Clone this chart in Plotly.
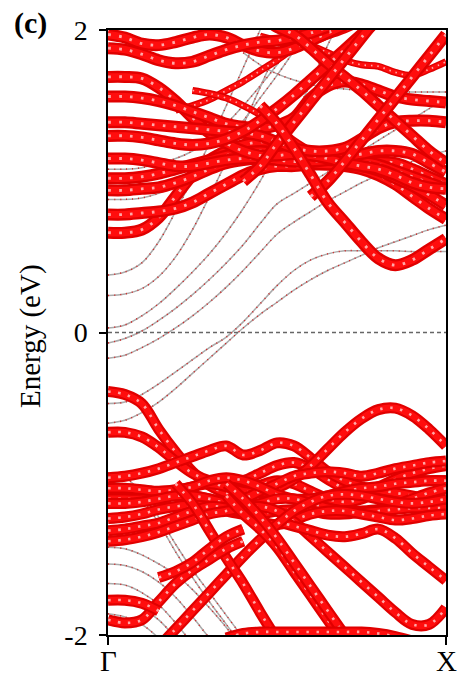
import plotly.graph_objects as go

N = None
# k-path coordinate (Gamma -> X)
K = [0.00, 0.05, 0.10, 0.15, 0.20, 0.25, 0.30, 0.35, 0.40, 0.45, 0.50,
     0.55, 0.60, 0.65, 0.70, 0.75, 0.80, 0.85, 0.90, 0.95, 1.00]

# ---------- thin (low weight) bands ----------
T1 = [0.38, 0.40, 0.46, 0.60, 0.80, 1.02, 1.25, 1.50, 1.75, 2.00, 2.25, N, N, N, N, N, N, N, N, N, N]
T2 = [0.245, 0.255, 0.29, 0.37, 0.50, 0.68, 0.90, 1.13, 1.37, 1.62, 1.87, 2.10, N, N, N, N, N, N, N, N, N]
T3 = [0.03, 0.05, 0.11, 0.19, 0.29, 0.40, 0.52, 0.66, 0.82, 1.00, 1.20, 1.42, 1.65, 1.90, 2.12, N, N, N, N, N, N]
T4 = [-0.07, -0.04, 0.01, 0.08, 0.16, 0.25, 0.35, 0.46, 0.58, 0.72, 0.85, 0.92, 0.99, 1.06, 1.13, 1.20, 1.27, 1.34, 1.41, 1.48, 1.55]
T5 = [-0.17, -0.15, -0.10, -0.04, 0.03, 0.11, 0.20, 0.30, 0.41, 0.53, 0.65, 0.73, 0.80, 0.87, 0.93, 0.99, 1.04, 1.09, 1.13, 1.17, 1.20]
T6 = [N, N, N, N, N, N, N, N, 1.85, 1.77, 1.71, 1.67, 1.64, 1.62, 1.61, 1.60, 1.60, 1.59, 1.59, 1.59, 1.59]
T7 = [1.08, 1.08, 1.09, 1.12, 1.15, 1.20, 1.28, 1.38, 1.50, 1.63, 1.77, 1.92, 2.07, N, N, N, N, N, N, N, N]
T8 = [0.88, 0.88, 0.89, 0.92, 0.97, 1.05, 1.15, 1.27, 1.40, 1.55, 1.70, 1.86, 2.02, N, N, N, N, N, N, N, N]
W1 = [-0.47, -0.46, -0.41, -0.34, -0.26, -0.18, -0.10, -0.03, 0.07, 0.19, 0.31, 0.41, 0.48, 0.52, 0.54, 0.54, 0.54, 0.54, 0.535, 0.535, 0.535]
W2 = [-0.60, -0.58, -0.53, -0.46, -0.37, -0.27, -0.17, -0.07, 0.03, 0.12, 0.20, 0.28, 0.35, 0.41, 0.46, 0.51, 0.56, 0.60, 0.64, 0.68, 0.71]
G1 = [-1.42, -1.43, -1.47, -1.53, -1.60, -1.70, -1.82, -1.95, -2.10, N, N, N, N, N, N, N, N, N, N, N, N]
G2 = [-1.53, -1.54, -1.58, -1.65, -1.75, -1.88, -2.02, -2.15, N, N, N, N, N, N, N, N, N, N, N, N, N]
G3 = [-1.66, -1.67, -1.72, -1.80, -1.92, -2.06, N, N, N, N, N, N, N, N, N, N, N, N, N, N, N]
G4 = [-1.76, -1.77, -1.82, -1.90, -2.02, N, N, N, N, N, N, N, N, N, N, N, N, N, N, N, N]
G5 = [-1.86, -1.88, -1.93, -2.02, N, N, N, N, N, N, N, N, N, N, N, N, N, N, N, N, N]
G6 = [-0.93, -0.96, -1.06, -1.22, -1.40, -1.57, -1.72, -1.87, -2.02, N, N, N, N, N, N, N, N, N, N, N, N]
G7 = [-0.99, -1.01, -1.10, -1.26, -1.45, -1.62, -1.78, -1.93, -2.08, N, N, N, N, N, N, N, N, N, N, N, N]
thin_bands = [T1, T2, T3, T4, T5, T6, T7, T8, W1, W2, G1, G2, G3, G4, G5, G6, G7]

# ---------- valence bands with large weight ----------
VA = [-0.39, -0.41, -0.47, -0.64, -0.79, -0.92, -1.01, -1.06, -1.05, -1.01, -0.98, -1.00, -1.05, -1.10, -1.12, -1.10, -1.05, -1.00, -0.98, -0.98, -0.98]
VB = [-0.66, -0.66, -0.69, -0.76, -0.85, -0.93, -0.98, -1.00, -0.98, -0.93, -0.88, -0.86, -0.90, -0.97, -1.03, -1.05, -1.02, -0.97, -0.93, -0.90, -0.88]
VK = [-0.96, -0.95, -0.93, -0.90, -0.86, -0.82, -0.78, -0.75, -0.81, -0.78, -0.73, -0.75, -0.83, -0.92, -0.98, -1.02, -1.04, -1.06, -1.08, -1.10, -1.10]
VC = [-1.03, -1.04, -1.05, -1.06, -1.05, -1.02, -1.00, -1.02, -1.05, -1.06, -1.03, -0.97, -0.88, -0.77, -0.66, -0.57, -0.51, -0.50, -0.55, -0.64, -0.75]
VJ = [-1.10, -1.10, -1.10, -1.08, -1.07, -1.08, -1.10, -1.12, -1.10, -1.05, -1.00, -0.95, -0.93, -0.92, -0.93, -0.95, -0.93, -0.90, -0.88, -0.86, -0.85]
VD = [-1.03, -1.03, -1.04, -1.05, -1.04, -1.02, -0.98, -0.96, -0.98, -1.02, -1.07, -1.10, -1.10, -1.08, -1.05, -1.03, -1.02, -1.00, -0.99, -0.98, -0.98]
VE = [-1.13, -1.13, -1.12, -1.10, -1.08, -1.08, -1.10, -1.13, -1.15, -1.13, -1.10, -1.10, -1.13, -1.16, -1.18, -1.18, -1.17, -1.14, -1.10, -1.06, -1.03]
VF = [-1.23, -1.22, -1.20, -1.17, -1.15, -1.14, -1.15, -1.18, -1.20, -1.20, -1.18, -1.17, -1.18, -1.20, -1.20, -1.19, -1.18, -1.17, -1.16, -1.16, -1.16]
VG = [-1.31, -1.30, -1.28, -1.26, -1.22, -1.18, -1.15, -1.16, -1.20, -1.25, -1.27, -1.24, -1.20, -1.18, -1.18, -1.20, -1.22, -1.24, -1.23, -1.21, -1.20]
VH = [-1.38, -1.37, -1.35, -1.32, -1.28, -1.24, -1.20, -1.18, -1.16, -1.15, -1.18, -1.25, -1.35, -1.45, -1.55, -1.65, -1.75, -1.85, -1.93, -1.93, -1.82]
D2 = [N, N, N, N, N, N, N, N, N, N, -1.25, -1.28, -1.31, -1.34, -1.35, -1.33, -1.30, -1.36, -1.46, -1.55, -1.64]
R1 = [N, N, N, -2.08, -1.96, -1.84, -1.72, -1.60, -1.48, -1.37, -1.27, -1.18, -1.12, -1.08, -1.07, -1.08, -1.10, -1.12, -1.13, -1.12, -1.10]
DS1 = [N, N, N, N, -1.00, -1.13, -1.31, -1.49, -1.66, -1.85, -2.03, N, N, N, N, N, N, N, N, N, N]
DS2 = [N, N, N, N, N, N, N, -1.08, -1.20, -1.30, -1.42, -1.58, -1.74, -1.90, -2.06, N, N, N, N, N, N]
DS3 = [N, N, N, N, N, N, N, -1.00, -1.10, -1.22, -1.36, -1.52, -1.68, -1.84, -2.00, -2.16, N, N, N, N, N]
BF = [N, N, N, N, N, N, N, -2.02, -1.99, -1.98, -1.98, -1.98, -1.98, -1.98, -1.98, -1.98, -1.99, -2.01, -2.04, N, N]
R2 = [-1.90, -1.92, -1.90, -1.78, -1.66, -1.57, -1.50, -1.43, -1.38, N, N, N, N, N, N, N, N, N, N, N, N]
R3 = [-1.77, -1.77, -1.79, -1.84, N, N, N, N, N, N, N, N, N, N, N, N, N, N, N, N, N]
R4 = [N, N, N, -1.62, -1.58, -1.52, -1.43, -1.35, -1.30, N, N, N, N, N, N, N, N, N, N, N, N]
valence_fat = [VA, VB, VK, VC, VJ, VD, VE, VF, VG, VH, D2, R1, DS1, DS2, DS3, BF, R2, R3, R4]

# ---------- conduction bands with large weight ----------
CA = [0.66, 0.66, 0.68, 0.76, 0.90, 1.04, 1.14, 1.20, 1.24, 1.26, 1.25, 1.22, 1.18, 1.14, 1.12, 1.12, 1.13, 1.12, 1.08, 1.03, 0.98]
CB = [0.78, 0.78, 0.79, 0.80, 0.82, 0.86, 0.92, 0.98, 1.04, 1.08, 1.10, 1.10, 1.11, 1.11, 1.10, 1.08, 1.04, 0.98, 0.90, 0.82, 0.75]
CC = [0.94, 0.94, 0.95, 0.96, 0.99, 1.03, 1.08, 1.12, 1.14, 1.15, 1.15, 1.14, 1.12, 1.11, 1.11, 1.10, 1.07, 1.02, 0.97, 0.91, 0.84]
CE = [1.02, 1.02, 1.03, 1.05, 1.08, 1.11, 1.14, 1.17, 1.19, 1.20, 1.19, 1.17, 1.15, 1.14, 1.14, 1.13, 1.11, 1.07, 1.03, 0.99, 0.95]
CF = [1.15, 1.15, 1.14, 1.12, 1.10, 1.10, 1.12, 1.14, 1.15, 1.15, 1.14, 1.13, 1.13, 1.14, 1.16, 1.18, 1.20, 1.20, 1.18, 1.12, 1.06]
L1 = [1.97, 1.95, 1.91, 1.90, 1.92, 1.95, 1.97, 1.95, 1.90, 1.86, 1.85, 1.88, 1.93, 1.98, 2.03, N, N, N, N, N, N]
L2 = [1.88, 1.87, 1.84, 1.80, 1.78, 1.79, 1.83, 1.87, 1.90, 1.92, 1.93, 1.95, 1.98, 2.02, N, N, N, N, N, N, N]
L3 = [1.69, 1.69, 1.68, 1.62, 1.53, 1.42, 1.32, 1.25, 1.20, 1.17, 1.17, 1.18, 1.17, 1.15, 1.12, 1.10, 1.08, 1.04, 0.99, 0.96, 0.95]
L4 = [1.56, 1.56, 1.55, 1.53, 1.50, 1.46, 1.42, 1.38, 1.36, 1.35, 1.37, 1.42, 1.55, 1.63, 1.66, 1.64, 1.60, 1.56, 1.54, 1.53, 1.52]
L5 = [1.39, 1.39, 1.38, 1.37, 1.36, 1.35, 1.34, 1.33, 1.32, 1.30, 1.26, 1.22, 1.20, 1.20, 1.22, 1.28, 1.35, 1.39, 1.40, 1.40, 1.39]
L6 = [1.30, 1.30, 1.29, 1.27, 1.25, 1.24, 1.25, 1.28, 1.33, 1.40, 1.48, 1.57, 1.67, 1.77, 1.87, 1.97, 2.07, N, N, N, N]
CX = [N, N, N, N, N, N, N, N, N, 2.10, 2.02, 1.97, 1.88, 1.78, 1.69, 1.60, 1.50, 1.40, 1.30, 1.20, 1.12]
CR1 = [N, N, N, N, N, N, N, N, 1.00, 1.10, 1.25, 1.39, 1.53, 1.67, 1.81, 1.95, 2.09, N, N, N, N]
CR2 = [N, N, N, N, N, N, N, N, N, N, N, N, 0.90, 1.00, 1.13, 1.27, 1.41, 1.55, 1.69, 1.83, 1.97]
CD = [N, N, N, N, N, N, N, N, N, 1.50, 1.38, 1.22, 1.04, 0.86, 0.73, 0.60, 0.49, 0.445, 0.48, 0.55, 0.62]
conduction_fat = [CA, CB, CC, CE, CF, L1, L2, L3, L4, L5, L6, CX, CR1, CR2, CD]

# ---------- conduction bands with medium weight ----------
M1 = [N, N, N, N, N, N, N, N, N, N, N, N, 1.90, 1.85, 1.80, 1.77, 1.76, 1.72, 1.70, 1.74, 1.79]
M2 = [N, N, N, N, N, N, N, N, N, 1.96, 1.93, 1.90, 1.92, 1.96, 2.00, 2.05, N, N, N, N, N]
M3 = [N, N, N, N, 1.47, 1.50, 1.54, 1.60, 1.66, 1.73, 1.80, 1.88, 1.96, 2.04, N, N, N, N, N, N, N]
M4 = [N, N, N, N, N, 1.60, 1.58, 1.55, 1.50, 1.44, 1.36, 1.27, 1.20, N, N, N, N, N, N, N, N]
conduction_medium = [M1, M2, M3, M4]

K_TICKS = [0, 1]
K_LABELS = ['Γ', 'X']
Y_TICKS = [-2, 0, 2]
Y_LABELS = ['-2', '0', '2']

fig = go.Figure()


def line(band, color, width, dash='solid'):
    fig.add_trace(go.Scatter(
        x=K, y=band, mode='lines', hoverinfo='skip', showlegend=False,
        line=dict(color=color, width=width, dash=dash, shape='spline', smoothing=1.0)))


for b in thin_bands:
    line(b, '#ababab', 1.5)
    line(b, '#d42020', 1.5, '1px,5px')


def fat(band, d):
    line(band, '#e00000', d)
    line(band, '#ff0d0d', d * 0.6)
    line(band, '#ffa8a8', d * 0.24, '%.1fpx,%.1fpx' % (d * 0.22, d * 0.7))


for b in conduction_medium:
    fat(b, 7)
for b in valence_fat:
    fat(b, 11)
for b in conduction_fat:
    fat(b, 12)

fig.add_shape(type='line', xref='x', yref='y', x0=0, x1=1, y0=0, y1=0,
              line=dict(color='#666666', width=1.5, dash='4px,3px'))

FONT = 'Liberation Serif, Times New Roman, serif'
fig.update_layout(
    width=457, height=679, margin=dict(l=108, r=11, t=30, b=44, autoexpand=False),
    plot_bgcolor='white', paper_bgcolor='white', showlegend=False,
    font=dict(family=FONT, color='black'),
)
fig.update_xaxes(range=[0, 1], tickvals=K_TICKS, ticktext=['', ''], ticks='outside',
                 ticklen=8, tickwidth=1.5, tickcolor='black', showline=True,
                 linecolor='black', linewidth=1.5, mirror=True, showgrid=False,
                 zeroline=False, automargin=False)
fig.update_yaxes(range=[-2, 2], tickvals=Y_TICKS, ticktext=Y_LABELS, ticks='outside',
                 ticklen=7, tickwidth=1.5, tickcolor='black', showline=True,
                 linecolor='black', linewidth=1.5, mirror=True, showgrid=False,
                 zeroline=False, automargin=False, tickfont=dict(family=FONT, size=28),
                 ticklabelstandoff=6)
for kv, lab in zip(K_TICKS, K_LABELS):
    fig.add_annotation(xref='x', yref='paper', x=kv, y=-0.043, text=lab,
                       xanchor='center', yanchor='middle', showarrow=False,
                       font=dict(family=FONT, size=29))
fig.add_annotation(xref='paper', yref='paper', x=-0.231, y=0.494, text='Energy (eV)',
                   xanchor='center', yanchor='middle',
                   textangle=-90, showarrow=False, font=dict(family=FONT, size=29))
fig.add_annotation(xref='paper', yref='paper', x=-0.228, y=1.012, text='<b>(c)</b>',
                   xanchor='center', yanchor='middle',
                   showarrow=False, font=dict(family=FONT, size=30))

fig.write_html('out.html')
